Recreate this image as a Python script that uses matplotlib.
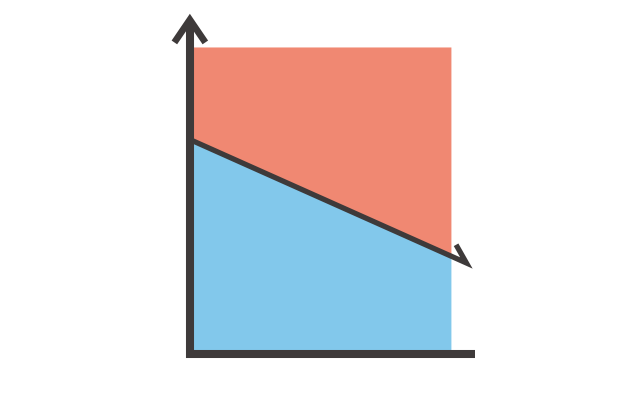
import matplotlib
matplotlib.use("Agg")
import matplotlib.pyplot as plt

# chart values (units: x 0..10, y 0..10)
x_range = [0, 10]
top_value = 10
trend_start = 6.9
trend_end = 3.1
trend_arrow_x = 10.6

RED = "#F08872"
BLUE = "#82C8EB"
DARK = "#3E3A3A"

fig = plt.figure(figsize=(6.4, 4.0), dpi=100)
ax = fig.add_axes([0, 0, 1, 1])
ax.set_xlim(-7.48, 17.33)
ax.set_ylim(-1.65, 11.55)
ax.axis("off")

trend = [trend_start, trend_end]
ax.fill_between(x_range, trend, top_value, color=RED, linewidth=0)
ax.fill_between(x_range, 0, trend, color=BLUE, linewidth=0)

# trend line with a one-sided arrow barb
slope = (trend_end - trend_start) / (x_range[1] - x_range[0])
tip_y = trend_start + slope * trend_arrow_x
ax.plot([0, trend_arrow_x, trend_arrow_x - 0.4],
        [trend_start, tip_y, tip_y + 0.6], color=DARK, lw=3.8,
        solid_capstyle="butt", solid_joinstyle="miter")

# axes
ax_x, ax_y = -0.12, -0.13
ax.plot([ax_x - 0.15, 10.93], [ax_y, ax_y], color=DARK, lw=5.8,
        solid_capstyle="butt")
ax.plot([ax_x, ax_x], [ax_y - 0.13, 10.9], color=DARK, lw=5.8,
        solid_capstyle="butt")
ax.plot([ax_x - 0.6, ax_x, ax_x + 0.6], [10.15, 10.9, 10.15], color=DARK,
        lw=4.8, solid_joinstyle="miter", solid_capstyle="butt")

fig.savefig("out.png", dpi=100)
